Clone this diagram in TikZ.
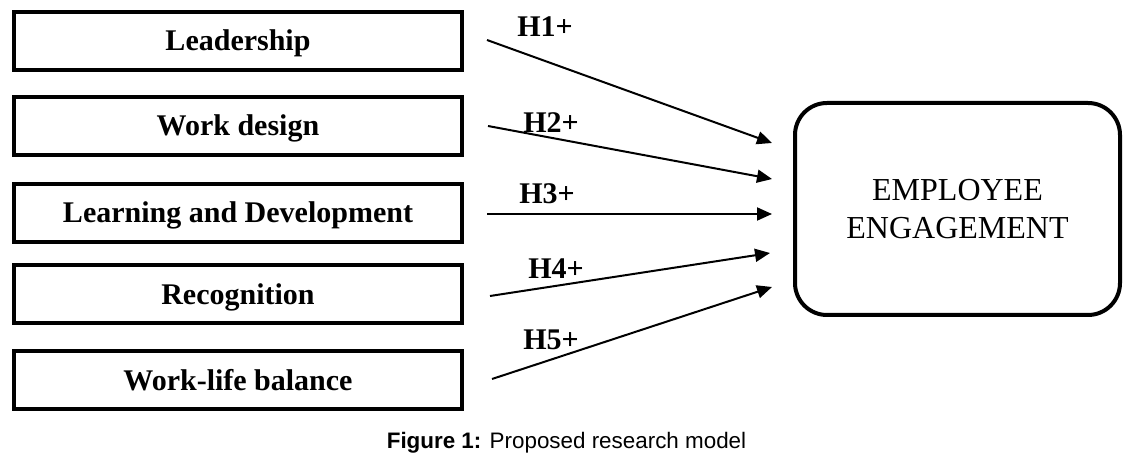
\documentclass[tikz,border=0pt]{standalone}
\usepackage{fontspec}
\setmainfont{Liberation Serif}
\newfontfamily\capfont{Liberation Sans}
\usetikzlibrary{arrows.meta}
\begin{document}
\begin{tikzpicture}[x=0.5pt,y=-0.5pt,
 factor/.style={draw,line width=2pt,minimum width=224pt,minimum height=29pt,inner sep=0pt,text height=10pt,text depth=0pt,font=\fontsize{15}{18}\selectfont\bfseries},
 outcome/.style={draw,line width=2pt,rounded corners=16pt,minimum width=162.5pt,minimum height=106pt,align=center,font=\fontsize{16}{19}\selectfont},
 hyp/.style={anchor=base west,inner sep=0pt,font=\fontsize{15}{18}\selectfont\bfseries},
 link/.style={line width=1pt,-{Triangle[length=7.5pt,width=6.5pt]}}]
\useasboundingbox (0,0) rectangle (1130,464);
\node[factor] (lead) at (238,41) {Leadership};
\node[factor] (work) at (238,126) {Work design};
\node[factor] (learn) at (238,213) {Learning and Development};
\node[factor] (recog) at (238,294.5) {Recognition};
\node[factor] (wlb) at (238,380.5) {Work-life balance};
\node[outcome] (ee) at (957.5,209) {EMPLOYEE\\ENGAGEMENT};
\coordinate (s1) at (487,40);  \coordinate (t1) at (772,143);
\coordinate (s2) at (488,126); \coordinate (t2) at (772,179);
\coordinate (s3) at (487,214); \coordinate (t3) at (772,214);
\coordinate (s4) at (490,296); \coordinate (t4) at (770,253);
\coordinate (s5) at (492,379); \coordinate (t5) at (772,287);
\draw[link] (s1) -- (t1);
\draw[link] (s2) -- (t2);
\draw[link] (s3) -- (t3);
\draw[link] (s4) -- (t4);
\draw[link] (s5) -- (t5);
\node[hyp] (h1) at (517,37) {H1+};
\node[hyp] (h2) at (523,133) {H2+};
\node[hyp] (h3) at (519,204) {H3+};
\node[hyp] (h4) at (528,279) {H4+};
\node[hyp] (h5) at (523,350) {H5+};
\node[anchor=base,inner sep=0pt,font=\capfont\fontsize{11.2}{13}\selectfont,text=black] (cap) at (566.5,449) {\textbf{Figure 1:} Proposed research model};
\end{tikzpicture}
\end{document}
